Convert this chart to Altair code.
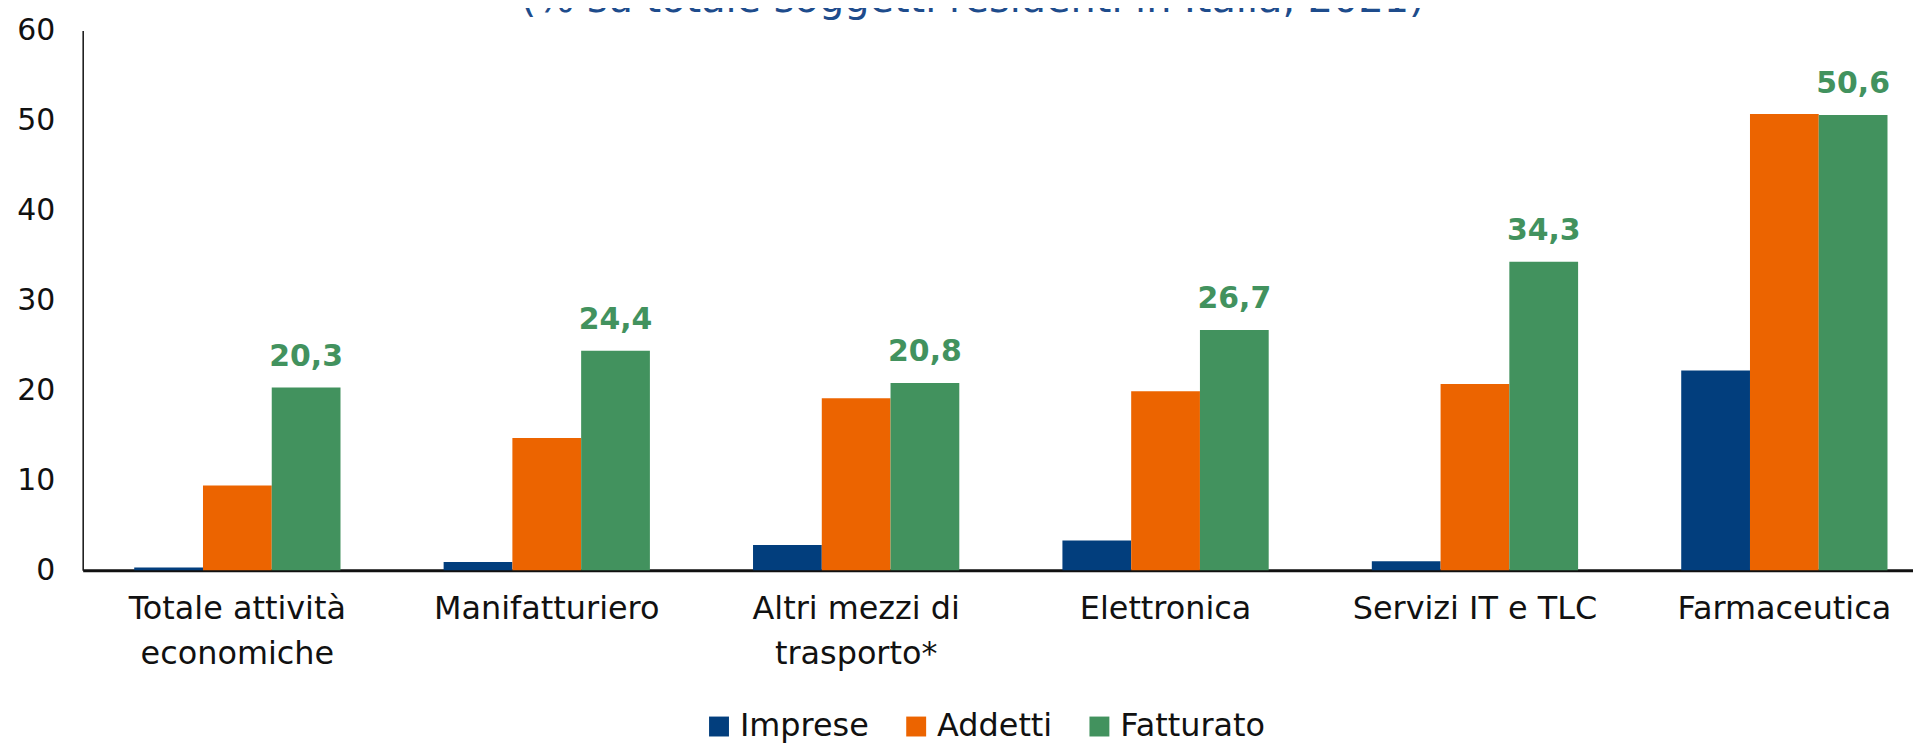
import altair as alt
import pandas as pd

categorie = ["Totale attività\neconomiche", "Manifatturiero", "Altri mezzi di\ntrasporto*",
             "Elettronica", "Servizi IT e TLC", "Farmaceutica"]
serie = ["Imprese", "Addetti", "Fatturato"]
imprese = [0.3, 0.9, 2.8, 3.3, 1.0, 22.2]
addetti = [9.4, 14.7, 19.1, 19.9, 20.7, 50.7]
fatturato = [20.3, 24.4, 20.8, 26.7, 34.3, 50.6]
colori = ["#023E7D", "#EC6400", "#42925E"]
titolo = "(% su totale soggetti residenti in Italia, 2021)"
y_ticks = [0, 10, 20, 30, 40, 50, 60]

rows = []
for s, vals in zip(serie, [imprese, addetti, fatturato]):
    for c, v in zip(categorie, vals):
        rows.append({"categoria": c, "serie": s, "valore": v})
df = pd.DataFrame(rows)

FONT = "DejaVu Sans"

x_enc = alt.X(
    "categoria:N", sort=categorie, title=None,
    scale=alt.Scale(paddingInner=0.3333, paddingOuter=0.1245, align=0.669),
    axis=alt.Axis(labelAngle=0, labelFont=FONT, labelFontSize=32, labelColor="#111",
                  labelExpr="split(datum.label, '\\n')", labelLineHeight=45,
                  labelPadding=24, labelLimit=0, ticks=False, tickSize=0,
                  domainColor="#111", domainWidth=3, labelBaseline="top"))
xoff_enc = alt.XOffset("serie:N", sort=serie,
                       scale=alt.Scale(domain=serie, paddingInner=0, paddingOuter=0))
y_enc = alt.Y(
    "valore:Q", title=None,
    scale=alt.Scale(domain=[0, 60], nice=False),
    axis=alt.Axis(values=y_ticks, grid=False, ticks=False, tickSize=0, labelPadding=28,
                  labelFont=FONT, labelFontSize=30, labelColor="#111",
                  domainColor="#111", domainWidth=1.5))

base = alt.Chart(df)

bars = base.mark_bar().encode(
    x=x_enc, xOffset=xoff_enc, y=y_enc,
    color=alt.Color("serie:N", sort=serie,
                    scale=alt.Scale(domain=serie, range=colori),
                    legend=alt.Legend(title=None, orient="none", legendX=623, legendY=683,
                                      direction="horizontal", symbolType="square",
                                      symbolSize=400, symbolStrokeWidth=0,
                                      labelFont=FONT, labelFontSize=32, labelColor="#111",
                                      labelOffset=5, columnPadding=31, padding=0)),
)

labels = base.transform_filter(
    alt.datum.serie == "Fatturato"
).transform_calculate(
    etichetta="replace(format(datum.valore, '.1f'), '.', ',')"
).mark_text(
    baseline="alphabetic", align="center", dy=-22, font=FONT, fontSize=30,
    fontWeight="bold", color="#42925E"
).encode(x=x_enc, xOffset=xoff_enc, y=y_enc, text="etichetta:N")

chart = alt.layer(bars, labels).properties(
    width=1838, height=542,
    title=alt.TitleParams(text=titolo, anchor="start", frame="group", dx=440, dy=4, offset=0,
                          font=FONT, fontSize=40, fontWeight="normal", color="#1E4C8C"),
    autosize=alt.AutoSizeParams(type="none"),
    padding={"left": 75, "top": 21, "right": 0, "bottom": 172},
).configure_view(stroke=None)

chart.save("out.html", embed_options={"renderer": "svg", "actions": False})
